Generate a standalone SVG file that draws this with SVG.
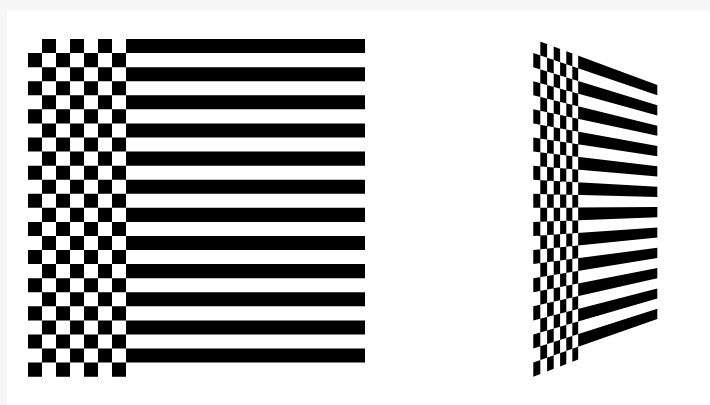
<svg xmlns="http://www.w3.org/2000/svg" width="710" height="405" viewBox="0 0 710 405">
<style>
.ink{fill:#000;fill-rule:evenodd;stroke:none}
</style>
<rect x="0" y="0" width="710" height="405" fill="#f7f7f7"/>
<rect x="7" y="11" width="703" height="394" fill="#fff"/>
<g id="flat">
<path class="ink" d="M28 39h337v14.07h-337Z M28 67.14h337v14.07h-337Z M28 95.28h337v14.07h-337Z M28 123.42h337v14.07h-337Z M28 151.56h337v14.07h-337Z M28 179.70h337v14.07h-337Z M28 207.84h337v14.07h-337Z M28 235.98h337v14.07h-337Z M28 264.12h337v14.07h-337Z M28 292.26h337v14.07h-337Z M28 320.40h337v14.07h-337Z M28 348.54h337v14.07h-337Z
M28 39h14v337.68h-14Z M56 39h14v337.68h-14Z M84 39h14v337.68h-14Z M112 39h14v337.68h-14Z"/>
</g>
<g id="perspective">
<path class="ink" d="M533.3 39L657.31 84.99L657.31 95.16L533.3 53.07Z
M533.3 67.14L657.31 105.33L657.31 115.50L533.3 81.21Z
M533.3 95.28L657.31 125.68L657.31 135.85L533.3 109.35Z
M533.3 123.42L657.31 146.02L657.31 156.19L533.3 137.49Z
M533.3 151.56L657.31 166.36L657.31 176.54L533.3 165.63Z
M533.3 179.70L657.31 186.71L657.31 196.88L533.3 193.77Z
M533.3 207.84L657.31 207.05L657.31 217.22L533.3 221.91Z
M533.3 235.98L657.31 227.40L657.31 237.57L533.3 250.05Z
M533.3 264.12L657.31 247.74L657.31 257.91L533.3 278.19Z
M533.3 292.26L657.31 268.08L657.31 278.25L533.3 306.33Z
M533.3 320.40L657.31 288.43L657.31 298.60L533.3 334.47Z
M533.3 348.54L657.31 308.77L657.31 318.94L533.3 362.61Z
M533.3 39L540.31 41.60L540.31 373.99L533.3 376.68Z
M547.11 44.12L553.70 46.57L553.70 368.85L547.11 371.38Z
M560.10 48.94L566.30 51.24L566.30 364.02L560.10 366.40Z
M572.33 53.47L578.18 55.64L578.18 359.47L572.33 361.71Z"/>
</g>
</svg>
